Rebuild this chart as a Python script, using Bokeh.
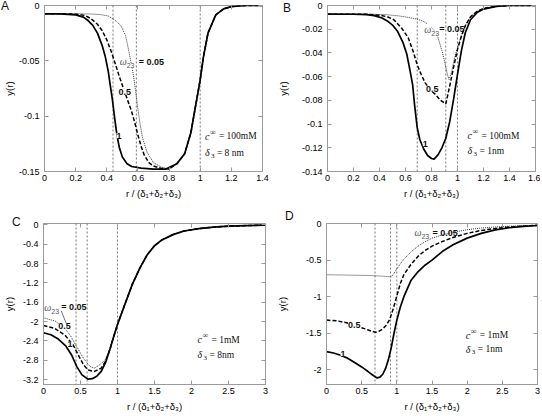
from bokeh.plotting import figure
from bokeh.models import Label, Span, LinearAxis, FixedTicker, Range1d, Arrow
from bokeh.layouts import column, row
from bokeh.embed import file_html
from bokeh.resources import INLINE

# ---------------- data ----------------
# Panel A  (c = 100 mM, delta3 = 8 nm)
A_x_1 = [0, 0.1, 0.2, 0.25, 0.28, 0.31, 0.34, 0.37, 0.39, 0.41, 0.42, 0.435, 0.45, 0.465, 0.48, 0.5, 0.53, 0.56, 0.62, 0.7,
         0.78, 0.85, 0.9, 0.94, 0.97, 1.0, 1.02, 1.05, 1.1, 1.15, 1.2, 1.25, 1.3, 1.4]
A_y_1 = [-0.0075, -0.0076, -0.0085, -0.0105, -0.0136, -0.018, -0.025, -0.036, -0.046, -0.060, -0.070, -0.084, -0.101, -0.117,
         -0.128, -0.137, -0.143, -0.1455, -0.147, -0.1478, -0.1478, -0.143, -0.134, -0.115, -0.091, -0.067, -0.047, -0.025,
         -0.0085, -0.003, -0.001, -0.0003, 0, 0]
A_x_05 = [0, 0.1, 0.2, 0.26, 0.3, 0.34, 0.37, 0.4, 0.43, 0.46, 0.48, 0.51, 0.54, 0.56, 0.58, 0.6, 0.62, 0.64, 0.67, 0.7,
          0.75, 0.8, 0.85, 0.9, 0.94, 0.97, 1.0, 1.02, 1.05, 1.1, 1.15, 1.2, 1.25, 1.3, 1.4]
A_y_05 = [-0.0075, -0.0075, -0.0078, -0.009, -0.012, -0.017, -0.0226, -0.031, -0.042, -0.055, -0.064, -0.076, -0.088, -0.096,
          -0.106, -0.117, -0.127, -0.135, -0.142, -0.145, -0.1472, -0.1478, -0.143, -0.134, -0.115, -0.091, -0.067, -0.047,
          -0.025, -0.0085, -0.003, -0.001, -0.0003, 0, 0]
A_x_005 = [0, 0.2, 0.3, 0.36, 0.41, 0.45, 0.49, 0.52, 0.54, 0.555, 0.57, 0.585, 0.6, 0.615, 0.63, 0.66, 0.7, 0.75, 0.8, 0.85,
           0.9, 0.94, 0.97, 1.0, 1.02, 1.05, 1.1, 1.15, 1.2, 1.25, 1.3, 1.4]
A_y_005 = [-0.0075, -0.0075, -0.0077, -0.0082, -0.0095, -0.013, -0.018, -0.027, -0.040, -0.051, -0.062, -0.077, -0.094,
           -0.108, -0.12, -0.133, -0.142, -0.146, -0.1478, -0.143, -0.134, -0.115, -0.091, -0.067, -0.047, -0.025, -0.0085,
           -0.003, -0.001, -0.0003, 0, 0]
A_vlines = [0.44, 0.59, 1.0]
A_xticks = [0, 0.2, 0.4, 0.6, 0.8, 1.0, 1.2, 1.4]
A_xlabels = ["0", "0.2", "0.4", "0.6", "0.8", "1", "1.2", "1.4"]
A_yticks = [0, -0.05, -0.1, -0.15]
A_ylabels = ["0", "-0.05", "-0.1", "-0.15"]

# Panel B  (c = 100 mM, delta3 = 1 nm)
B_x_1 = [0, 0.2, 0.3, 0.36, 0.42, 0.46, 0.5, 0.54, 0.58, 0.61, 0.635, 0.655, 0.67, 0.69, 0.71, 0.74, 0.77, 0.8, 0.82, 0.85,
         0.88, 0.91, 0.94, 0.97, 1.0, 1.03, 1.06, 1.1, 1.15, 1.2, 1.3, 1.4, 1.6]
B_y_1 = [-0.0073, -0.0074, -0.0077, -0.0085, -0.0105, -0.013, -0.0165, -0.022, -0.031, -0.041, -0.055, -0.067, -0.084,
         -0.103, -0.113, -0.121, -0.1265, -0.129, -0.1295, -0.126, -0.120, -0.112, -0.098, -0.079, -0.058, -0.038, -0.023,
         -0.012, -0.006, -0.003, -0.0007, 0, 0]
B_x_05 = [0, 0.2, 0.3, 0.4, 0.46, 0.51, 0.57, 0.62, 0.66, 0.69, 0.72, 0.75, 0.79, 0.83, 0.87, 0.91, 0.94, 0.97, 1.0, 1.03,
          1.06, 1.1, 1.15, 1.2, 1.3, 1.4, 1.6]
B_y_05 = [-0.0073, -0.0073, -0.0074, -0.0082, -0.0095, -0.012, -0.019, -0.027, -0.039, -0.050, -0.058, -0.065, -0.071,
          -0.075, -0.080, -0.083, -0.068, -0.052, -0.037, -0.026, -0.017, -0.0095, -0.005, -0.0025, -0.0006, 0, 0]
B_x_005 = [0, 0.3, 0.45, 0.55, 0.62, 0.69, 0.74, 0.78, 0.82, 0.85, 0.88, 0.9, 0.92, 0.935, 0.955, 0.975, 1.0, 1.03, 1.06,
           1.1, 1.15, 1.2, 1.3, 1.4, 1.6]
B_y_005 = [-0.0073, -0.0073, -0.0077, -0.0088, -0.0100, -0.0115, -0.0135, -0.0165, -0.021, -0.027, -0.038, -0.047, -0.057,
           -0.0625, -0.056, -0.045, -0.036, -0.025, -0.017, -0.0093, -0.005, -0.0025, -0.0006, 0, 0]
B_vlines = [0.69, 0.91, 1.0]
B_xticks = [0, 0.2, 0.4, 0.6, 0.8, 1.0, 1.2, 1.4, 1.6]
B_xlabels = ["0", "0.2", "0.4", "0.6", "0.8", "1", "1.2", "1.4", "1.6"]
B_yticks = [0, -0.02, -0.04, -0.06, -0.08, -0.1, -0.12, -0.14]
B_ylabels = ["0", "-0.02", "-0.04", "-0.06", "-0.08", "-0.1", "-0.12", "-0.14"]

# Panel C  (c = 1 mM, delta3 = 8 nm)
C_x_1 = [0, 0.1, 0.2, 0.3, 0.38, 0.45, 0.52, 0.6, 0.66, 0.72, 0.78, 0.84, 0.9, 0.95, 1.0, 1.05, 1.1, 1.2, 1.3, 1.4,
         1.5, 1.6, 1.75, 1.9, 2.1, 2.3, 2.5, 2.75, 3.0]
C_y_1 = [-2.23, -2.27, -2.36, -2.50, -2.69, -2.93, -3.10, -3.19, -3.18, -3.13, -3.03, -2.84, -2.56, -2.30, -2.06, -1.85,
         -1.64, -1.23, -0.90, -0.62, -0.43, -0.31, -0.2, -0.125, -0.075, -0.045, -0.025, -0.012, -0.005]
C_x_05 = [0, 0.15, 0.29, 0.4, 0.47, 0.54, 0.6, 0.69, 0.78, 0.84, 0.9, 0.95, 1.0, 1.05, 1.1, 1.2, 1.3, 1.4, 1.5, 1.6,
          1.75, 1.9, 2.1, 2.3, 2.5, 2.75, 3.0]
C_y_05 = [-2.08, -2.14, -2.28, -2.48, -2.69, -2.89, -3.0, -3.03, -2.96, -2.82, -2.56, -2.30, -2.06, -1.85, -1.64, -1.23,
          -0.90, -0.62, -0.43, -0.31, -0.2, -0.125, -0.075, -0.045, -0.025, -0.012, -0.005]
C_x_005 = [0, 0.16, 0.27, 0.36, 0.45, 0.54, 0.63, 0.69, 0.76, 0.83, 0.9, 0.95, 1.0, 1.05, 1.1, 1.2, 1.3, 1.4, 1.5, 1.6,
           1.75, 1.9, 2.1, 2.3, 2.5, 2.75, 3.0]
C_y_005 = [-1.92, -1.99, -2.11, -2.28, -2.52, -2.76, -2.93, -2.96, -2.89, -2.80, -2.56, -2.30, -2.06, -1.85, -1.64, -1.23,
           -0.90, -0.62, -0.43, -0.31, -0.2, -0.125, -0.075, -0.045, -0.025, -0.012, -0.005]
C_vlines = [0.44, 0.59, 1.0]
C_xticks = [0, 0.5, 1.0, 1.5, 2.0, 2.5, 3.0]
C_xlabels = ["0", "0.5", "1", "1.5", "2", "2.5", "3"]
C_yticks = [0, -0.4, -0.8, -1.2, -1.6, -2.0, -2.4, -2.8, -3.2]
C_ylabels = ["0", "-0.4", "-0.8", "-1.2", "-1.6", "-2", "-2.4", "-2.8", "-3.2"]

# Panel D  (c = 1 mM, delta3 = 1 nm)
D_x_1 = [0, 0.1, 0.2, 0.3, 0.4, 0.5, 0.6, 0.67, 0.72, 0.76, 0.8, 0.84, 0.88, 0.92, 0.96, 1.0, 1.05, 1.1, 1.2, 1.3, 1.4,
         1.5, 1.65, 1.8, 2.0, 2.2, 2.4, 2.6, 2.8, 3.0]
D_y_1 = [-1.75, -1.77, -1.80, -1.84, -1.90, -1.96, -2.03, -2.08, -2.11, -2.10, -2.06, -1.98, -1.86, -1.70, -1.50, -1.32,
         -1.14, -1.0, -0.78, -0.66, -0.57, -0.50, -0.38, -0.29, -0.2, -0.135, -0.088, -0.058, -0.04, -0.027]
D_x_05 = [0, 0.15, 0.3, 0.45, 0.55, 0.65, 0.7, 0.75, 0.8, 0.85, 0.9, 0.95, 1.0, 1.05, 1.1, 1.2, 1.3, 1.4, 1.5, 1.65, 1.8,
          2.0, 2.2, 2.4, 2.6, 2.8, 3.0]
D_y_05 = [-1.32, -1.33, -1.36, -1.41, -1.44, -1.475, -1.485, -1.47, -1.44, -1.39, -1.31, -1.16, -0.99, -0.82, -0.70,
          -0.56, -0.45, -0.37, -0.31, -0.245, -0.19, -0.135, -0.095, -0.068, -0.048, -0.035, -0.025]
D_x_005 = [0, 0.3, 0.6, 0.8, 0.92, 0.96, 1.0, 1.05, 1.1, 1.2, 1.3, 1.4, 1.5, 1.65, 1.8, 2.0, 2.2, 2.4, 2.6, 2.8, 3.0]
D_y_005 = [-0.70, -0.705, -0.71, -0.72, -0.73, -0.68, -0.62, -0.55, -0.49, -0.39, -0.31, -0.25, -0.20, -0.155, -0.12,
           -0.085, -0.062, -0.047, -0.037, -0.03, -0.025]
D_vlines = [0.69, 0.91, 1.0]
D_xticks = [0, 0.5, 1.0, 1.5, 2.0, 2.5, 3.0]
D_xlabels = ["0", "0.5", "1", "1.5", "2", "2.5", "3"]
D_yticks = [0, -0.5, -1.0, -1.5, -2.0]
D_ylabels = ["0", "-0.5", "-1", "-1.5", "-2"]

PANEL_LETTERS = ["A", "B", "C", "D"]

SANS = "Liberation Sans"
SERIF = "Liberation Serif"
GREY = "#9a9a9a"


def panel(w, h, borders, xr, yr, xt, xl, yt, yl, ylab_standoff):
    left, right, top, bottom = borders
    p = figure(width=w, height=h, x_range=Range1d(*xr), y_range=Range1d(*yr),
               output_backend="svg", toolbar_location=None,
               min_border_left=left, min_border_right=right,
               min_border_top=top, min_border_bottom=bottom,
               background_fill_color="white", border_fill_color="white")
    p.grid.visible = False
    p.outline_line_color = GREY
    for ax, ticks, labels in ((p.xaxis[0], xt, xl), (p.yaxis[0], yt, yl)):
        ax.ticker = FixedTicker(ticks=ticks, minor_ticks=[])
        ax.major_label_overrides = {t: s for t, s in zip(ticks, labels)}
        ax.major_tick_in = 4
        ax.major_tick_out = 0
        ax.minor_tick_line_color = None
        ax.axis_line_color = GREY
        ax.major_tick_line_color = GREY
        ax.major_label_text_font = SANS
        ax.major_label_text_font_size = "9px"
        ax.major_label_text_color = "#000000"
        ax.axis_label_text_font = SANS
        ax.axis_label_text_font_size = "9.5px"
        ax.axis_label_text_font_style = "normal"
        ax.axis_label_text_color = "#000000"
    p.xaxis.axis_label = "r / (δ₁+δ₂+δ₃)"
    p.yaxis.axis_label = "y(r)"
    p.xaxis.major_label_standoff = 3
    p.xaxis.axis_label_standoff = 4
    p.yaxis.major_label_standoff = 5
    p.yaxis.axis_label_standoff = ylab_standoff
    for loc, ticks in (("right", yt), ("above", xt)):
        ax = LinearAxis(ticker=FixedTicker(ticks=ticks, minor_ticks=[]),
                        major_tick_in=4, major_tick_out=0,
                        minor_tick_line_color=None, axis_line_color=None,
                        major_tick_line_color=GREY,
                        major_label_overrides={t: "" for t in ticks},
                        major_label_text_font_size="1px", major_label_standoff=0)
        p.add_layout(ax, loc)
    return p


def curves(p, xs1, ys1, xs05, ys05, xs005, ys005, vlines):
    for v in vlines:
        p.add_layout(Span(location=v, dimension="height", line_color="#555555",
                          line_width=0.8, line_dash="2 2", level="underlay"))
    p.line(xs005, ys005, line_color="#333333", line_width=1, line_dash="1 1")
    p.line(xs05, ys05, line_color="black", line_width=1.5, line_dash="4 2")
    p.line(xs1, ys1, line_color="black", line_width=1.7)


def txt(p, x, y, text, size="9px", font=SANS, style="normal", dx=0, dy=0,
        align="left", baseline="middle", bg=None, color="#111111"):
    lab = Label(x=x, y=y, text=text, x_offset=dx, y_offset=dy, text_font=font,
                text_font_size=size, text_font_style=style, text_align=align,
                text_baseline=baseline, text_color=color)
    if bg:
        lab.background_fill_color = bg
        lab.background_fill_alpha = 1.0
    p.add_layout(lab)


def omega(p, x, y, value, dx_eq, bg="white"):
    txt(p, x, y, "ω", size="10px", font=SERIF, style="italic", bg=bg, color="#555555")
    txt(p, x, y, "23", size="7px", dx=7, dy=-4, bg=bg, color="#555555")
    txt(p, x, y, "= " + value, size="9px", style="bold", dx=dx_eq)


def conc(p, x, y1, y2, cval, dval):
    txt(p, x, y1, "c", size="10px", font=SERIF, style="italic")
    txt(p, x, y1, "∞", size="8px", font=SERIF, dx=5, dy=4)
    txt(p, x, y1, "= " + cval, size="9.5px", font=SERIF, dx=14)
    txt(p, x, y2, "δ", size="10px", font=SERIF, style="italic")
    txt(p, x, y2, "3", size="7px", font=SERIF, dx=6, dy=-3)
    txt(p, x, y2, "= " + dval, size="9.5px", font=SERIF, dx=12)


# ---------------- Panel A ----------------
pA = panel(270, 207, (42, 8, 5, 36), (0, 1.4), (-0.15, 0), A_xticks, A_xlabels, A_yticks, A_ylabels, 1)
curves(pA, A_x_1, A_y_1, A_x_05, A_y_05, A_x_005, A_y_005, A_vlines)
omega(pA, 0.483, -0.051, "0.05", 19)
txt(pA, 0.475, -0.078, "0.5", style="bold", bg="white")
txt(pA, 0.462, -0.118, "1", style="bold", bg="white")
conc(pA, 1.03, -0.118, -0.133, "100mM", "8 nm")

# ---------------- Panel B ----------------
pB = panel(270, 207, (57, 5, 5, 36), (0, 1.6), (-0.14, 0), B_xticks, B_xlabels, B_yticks, B_ylabels, 10)
curves(pB, B_x_1, B_y_1, B_x_05, B_y_05, B_x_005, B_y_005, B_vlines)
omega(pB, 0.745, -0.020, "0.05", 15)
txt(pB, 0.758, -0.0705, "0.5", style="bold", bg="white")
txt(pB, 0.733, -0.1165, "1", style="bold", bg="white")
conc(pB, 1.077, -0.110, -0.1224, "100mM", "1nm")

# ---------------- Panel C ----------------
pC = panel(270, 207, (43, 5, 16, 30), (0, 3), (-3.3, 0.03), C_xticks, C_xlabels, C_yticks, C_ylabels, 5)
curves(pC, C_x_1, C_y_1, C_x_05, C_y_05, C_x_005, C_y_005, C_vlines)
pC.add_layout(Arrow(end=None, x_start=0.24, y_start=-1.78, x_end=0.33, y_end=-2.12,
                    line_color="#333333", line_width=0.7))
omega(pC, 0.01, -1.70, "0.05", 17)
txt(pC, 0.2, -2.10, "0.5", style="bold", bg="white")
txt(pC, 0.323, -2.47, "1", style="bold", bg="white")
conc(pC, 2.08, -2.37, -2.68, "1mM", "8nm")

# ---------------- Panel D ----------------
pD = panel(270, 207, (56, 3, 16, 30), (0, 3), (-2.2, 0), D_xticks, D_xlabels, D_yticks, D_ylabels, 15)
curves(pD, D_x_1, D_y_1, D_x_05, D_y_05, D_x_005, D_y_005, D_vlines)
omega(pD, 1.25, -0.125, "0.05", 18)
txt(pD, 0.307, -1.39, "0.5", style="bold", bg="white")
txt(pD, 0.2, -1.78, "1", style="bold", bg="white")
conc(pD, 1.98, -1.53, -1.72, "1mM", "1nm")

layout = column(row(pA, pB), row(pC, pD))
html = file_html(layout, INLINE)

# panel letters (page-level annotations outside the plot frames)
letter_pos = [(1, 0), (283, 2), (12, 216), (285, 210)]
letters_html = "".join(
    '<div style="position:absolute;left:%dpx;top:%dpx;font:12px/12px \'Liberation Sans\';color:#111">%s</div>'
    % (lx, ly, s) for s, (lx, ly) in zip(PANEL_LETTERS, letter_pos))
html = html.replace("</body>", letters_html + "</body>")
open("out.html", "w").write(html)
